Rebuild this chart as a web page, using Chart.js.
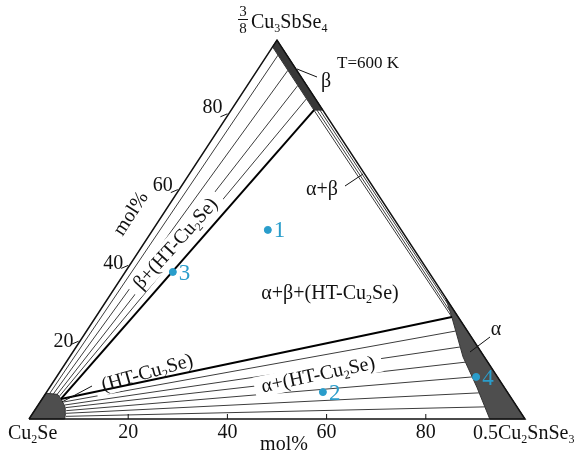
<!DOCTYPE html>
<html>
<head>
<meta charset="utf-8">
<script src="https://cdn.jsdelivr.net/npm/chart.js@4.4.1/dist/chart.umd.min.js"></script>
<style>
  html, body { margin: 0; padding: 0; background: #fff; }
  #wrap { width: 579px; height: 452px; }
</style>
</head>
<body>
<div id="wrap"><canvas id="chart" width="579" height="452"></canvas></div>
<script>
// points are [a, b] with a = 0.5Cu2SnSe3 fraction, b = 3/8Cu3SbSe4 fraction (rest is Cu2Se)
const triangle = [[0, 0], [1, 0], [0, 1], [0, 0]];
const betaPhase = [[0, 1], [0.185, 0.815], [0.167, 0.815], [0, 0.982], [0, 1]];
const alphaPhase = [[1, 0], [0.68, 0.32], [0.718, 0.269], [0.793, 0.164], [0.861, 0.084], [0.929, 0], [1, 0]];
const htPhase = [[0, 0], [0.072, 0], [0.066, 0.015], [0.058, 0.03], [0.05, 0.04], [0.038, 0.053], [0.025, 0.065], [0, 0.068], [0, 0]];
const threePhaseEdges = [
    [[0.167, 0.815], [0.038, 0.053]],
    [[0.718, 0.269], [0.038, 0.053]]
];
const betaHtTies = [
    [[0.022, 0.96], [0.008, 0.067]],
    [[0.062, 0.92], [0.016, 0.065]],
    [[0.102, 0.88], [0.024, 0.062]],
    [[0.137, 0.845], [0.031, 0.058]]
];
const alphaBetaTies = [
    [[0.176, 0.818], [0.693, 0.303]],
    [[0.171, 0.817], [0.705, 0.286]],
    [[0.167, 0.815], [0.718, 0.269]]
];
const alphaHtTies = [
    [[0.048, 0.045], [0.744, 0.232]],
    [[0.054, 0.037], [0.774, 0.19]],
    [[0.059, 0.030], [0.805, 0.15]],
    [[0.064, 0.022], [0.838, 0.111]],
    [[0.067, 0.015], [0.873, 0.069]],
    [[0.071, 0.007], [0.903, 0.032]]
];
const samples = [[0.232, 0.499], [0.557, 0.071], [0.096, 0.388], [0.846, 0.111]];
const sampleNames = ['1', '2', '3', '4'];
const tickValues = [0.2, 0.4, 0.6, 0.8];
const tickLabels = ['20', '40', '60', '80'];

const SERIF = '"Liberation Serif", "DejaVu Serif", serif';
const BLUE = '#2a9dcb';

const pt = p => ({ x: p[0] + p[1] / 2, y: p[1] });

function lineSet(label, pts, color, width, order, fillColor) {
    return {
        label: label,
        data: pts.map(pt),
        showLine: true,
        borderColor: color,
        borderWidth: width,
        pointRadius: 0,
        tension: 0,
        clip: false,
        order: order,
        fill: fillColor ? 'shape' : false,
        backgroundColor: fillColor || 'transparent'
    };
}

const datasets = [];
[...betaHtTies, ...alphaBetaTies, ...alphaHtTies].forEach((s, i) => {
    datasets.push(lineSet('tie' + i, s, '#3c3c3c', 1, 10));
});
datasets.push(lineSet('beta', betaPhase, '#333', 1, 6, '#383838'));
datasets.push(lineSet('alpha', alphaPhase, '#333', 1, 6, '#4e4e4e'));
datasets.push(lineSet('ht', htPhase, '#333', 1, 6, '#4e4e4e'));
threePhaseEdges.forEach((s, i) => datasets.push(lineSet('edge' + i, s, '#000', 2, 4)));
datasets.push(lineSet('triangle', triangle, '#111', 1.5, 3));
datasets.push({
    label: 'samples',
    data: samples.map(pt),
    showLine: false,
    pointRadius: 3.5,
    pointBackgroundColor: BLUE,
    pointBorderColor: BLUE,
    clip: false,
    order: 0
});

// text with "_x" meaning subscript x
function parts(s) {
    const out = [];
    let buf = '';
    for (let i = 0; i < s.length; i++) {
        if (s[i] === '_') {
            if (buf) out.push([buf, false]);
            buf = '';
            out.push([s[i + 1], true]);
            i++;
        } else buf += s[i];
    }
    if (buf) out.push([buf, false]);
    return out;
}

function drawRich(ctx, s, x, y, opt) {
    const size = opt.size || 20;
    const sub = Math.round(size * 0.58);
    const ps = parts(s);
    let w = 0;
    ps.forEach(p => {
        ctx.font = (p[1] ? sub : size) + 'px ' + SERIF;
        w += ctx.measureText(p[0]).width;
    });
    ctx.save();
    ctx.translate(x, y);
    ctx.rotate((opt.rot || 0) * Math.PI / 180);
    let sx = opt.align === 'left' ? 0 : opt.align === 'right' ? -w : -w / 2;
    if (opt.box) {
        ctx.fillStyle = '#fff';
        ctx.fillRect(sx - 7, -size * 0.5, w + 14, size * 1.05);
        ctx.restore();
        return;
    }
    ctx.fillStyle = opt.color || '#111';
    ctx.textBaseline = 'alphabetic';
    ps.forEach(p => {
        ctx.font = (p[1] ? sub : size) + 'px ' + SERIF;
        ctx.fillText(p[0], sx, size * 0.33 + (p[1] ? size * 0.2 : 0));
        sx += ctx.measureText(p[0]).width;
    });
    ctx.restore();
}

const regionLabels = [
    { t: 'β+(HT-Cu_2Se)', x: 175, y: 243, rot: -48, box: true },
    { t: '(HT-Cu_2Se)', x: 147, y: 372, rot: -16, box: true },
    { t: 'α+(HT-Cu_2Se)', x: 318, y: 374, rot: -12, box: true },
    { t: 'α+β+(HT-Cu_2Se)', x: 330, y: 292 },
    { t: 'α+β', x: 322, y: 188 },
    { t: 'β', x: 326, y: 80 },
    { t: 'α', x: 496, y: 328 },
    { t: 'T=600 K', x: 337, y: 62, align: 'left', size: 17 },
    { t: 'Cu_2Se', x: 8, y: 432, align: 'left' },
    { t: '0.5Cu_2SnSe_3', x: 473, y: 432, align: 'left' },
    { t: 'Cu_3SbSe_4', x: 251, y: 21, align: 'left' },
    { t: 'mol%', x: 284, y: 443 },
    { t: 'mol%', x: 130, y: 213, rot: -57 }
];
const leaders = [[297, 69, 317, 77], [470, 352, 490, 337], [345, 186, 363, 174], [62, 402, 92, 386]];

let boxesDone = false;
const decor = {
    id: 'decor',
    beforeDraw() { boxesDone = false; },
    beforeDatasetDraw(chart, args) {
        if (boxesDone || args.meta.order >= 10) return;
        boxesDone = true;
        const ctx = chart.ctx;
        regionLabels.filter(l => l.box).forEach(l => drawRich(ctx, l.t, l.x, l.y, l));
    },
    afterDatasetsDraw(chart) {
        const ctx = chart.ctx;
        const xs = chart.scales.x, ys = chart.scales.y;
        const px = p => [xs.getPixelForValue(p[0] + p[1] / 2), ys.getPixelForValue(p[1])];
        ctx.save();
        ctx.strokeStyle = '#111';
        ctx.lineWidth = 1;
        tickValues.forEach((v, i) => {
            const [bx, by] = px([v, 0]);
            ctx.beginPath(); ctx.moveTo(bx, by); ctx.lineTo(bx, by - 5); ctx.stroke();
            drawRich(ctx, tickLabels[i], bx, by + 12, { size: 20 });
            const [lx, ly] = px([0, v]);
            ctx.beginPath(); ctx.moveTo(lx - 7, ly + 1); ctx.lineTo(lx, ly - 2); ctx.stroke();
            drawRich(ctx, tickLabels[i], lx - 5, ly - 3 - i * 2, { size: 20, align: 'right' });
        });
        leaders.forEach(l => {
            ctx.beginPath(); ctx.moveTo(l[0], l[1]); ctx.lineTo(l[2], l[3]); ctx.stroke();
        });
        regionLabels.forEach(l => {
            drawRich(ctx, l.t, l.x, l.y, Object.assign({}, l, { box: false }));
        });
        // 3/8 fraction in front of the top vertex name
        drawRich(ctx, '3', 243, 11, { size: 15 });
        drawRich(ctx, '8', 243, 28, { size: 15 });
        ctx.beginPath(); ctx.moveTo(238, 19.5); ctx.lineTo(248, 19.5); ctx.stroke();
        samples.forEach((s, i) => {
            const [sx, sy] = px(s);
            drawRich(ctx, sampleNames[i], sx + 6, sy, { size: 23, align: 'left', color: BLUE });
        });
        ctx.restore();
    }
};

new Chart(document.getElementById('chart'), {
    type: 'scatter',
    data: { datasets: datasets },
    options: {
        responsive: false,
        animation: false,
        events: [],
        layout: { padding: { left: 29, right: 54, top: 40, bottom: 33 } },
        scales: {
            x: { type: 'linear', min: 0, max: 1, display: false },
            y: { type: 'linear', min: 0, max: 1, display: false }
        },
        plugins: { legend: { display: false }, tooltip: { enabled: false } }
    },
    plugins: [decor]
});
</script>
</body>
</html>
